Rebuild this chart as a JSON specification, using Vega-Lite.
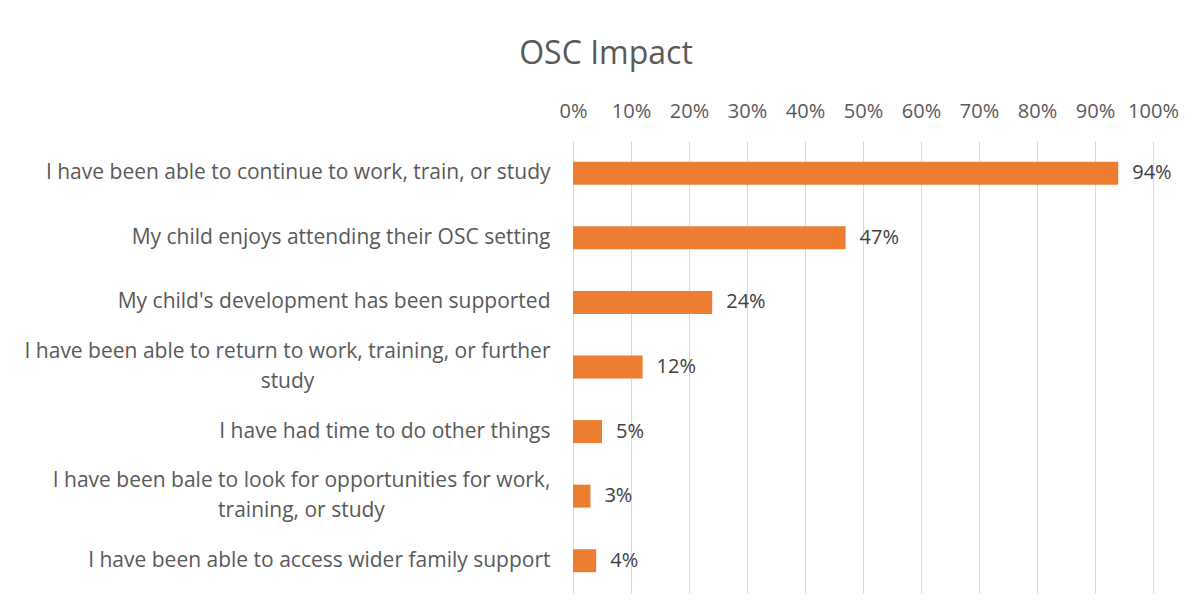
{
  "$schema": "https://vega.github.io/schema/vega-lite/v6.json",
  "width": 580,
  "height": 452,
  "autosize": {"type": "none"},
  "padding": {"left": 573, "top": 141, "right": 50, "bottom": 21},
  "background": "white",
  "title": {
    "text": "OSC Impact",
    "anchor": "middle",
    "frame": "group",
    "dx": -257,
    "offset": 30,
    "font": "Open Sans",
    "fontSize": 32,
    "fontWeight": "normal",
    "color": "#595959"
  },
  "data": {
    "values": [
      {"item": "I have been able to continue to work, train, or study", "share": 0.94, "label": "94%"},
      {"item": "My child enjoys attending their OSC setting", "share": 0.47, "label": "47%"},
      {"item": "My child's development has been supported", "share": 0.24, "label": "24%"},
      {"item": "I have been able to return to work, training, or further\nstudy", "share": 0.12, "label": "12%"},
      {"item": "I have had time to do other things", "share": 0.05, "label": "5%"},
      {"item": "I have been bale to look for opportunities for work,\ntraining, or study", "share": 0.03, "label": "3%"},
      {"item": "I have been able to access wider family support", "share": 0.04, "label": "4%"}
    ]
  },
  "encoding": {
    "y": {
      "field": "item",
      "type": "nominal",
      "sort": null,
      "scale": {"paddingInner": 0.644, "paddingOuter": 0.322},
      "axis": {
        "title": null,
        "ticks": false,
        "domain": false,
        "labelPadding": {"expr": "indexof(datum.value, 'further') >= 0 ? 286 : (indexof(datum.value, 'bale') >= 0 ? 272 : 23)"},
        "labelAlign": {"expr": "indexof(datum.value, '\\n') >= 0 ? 'center' : 'right'"},
        "labelFont": "Open Sans",
        "labelFontSize": 21,
        "labelColor": "#595959",
        "labelLimit": 600,
        "labelLineHeight": 30,
        "labelOffset": {"expr": "indexof(datum.value, '\\n') >= 0 ? -15 : 0"},
        "labelExpr": "split(datum.label, '\\n')"
      }
    },
    "x": {
      "field": "share",
      "type": "quantitative",
      "scale": {"domain": [0, 1]},
      "axis": {
        "orient": "top",
        "title": null,
        "format": ".0%",
        "values": [0, 0.1, 0.2, 0.3, 0.4, 0.5, 0.6, 0.7, 0.8, 0.9, 1.0],
        "labelOverlap": false,
        "labelFlush": false,
        "ticks": false,
        "domain": false,
        "labelPadding": 20,
        "labelFont": "Open Sans",
        "labelFontSize": 20,
        "labelColor": "#595959",
        "grid": true,
        "gridColor": "#D9D9D9",
        "gridWidth": 1
      }
    }
  },
  "layer": [
    {"mark": {"type": "bar", "color": "#ED7D31"}},
    {
      "mark": {"type": "text", "align": "left", "baseline": "middle", "dx": 14, "font": "Open Sans", "fontSize": 20, "color": "#404040"},
      "encoding": {"text": {"field": "label"}}
    }
  ],
  "config": {"view": {"stroke": null}}
}
